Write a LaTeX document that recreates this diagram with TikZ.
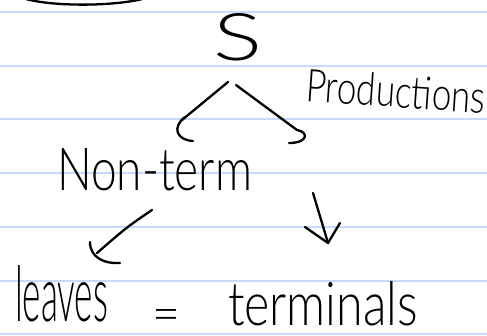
\documentclass[tikz,border=0pt]{standalone}
\usepackage{fontspec}
\usepackage{graphicx}
\setmainfont{Lato}[UprightFont=* Light]
\definecolor{rulecol}{RGB}{198,218,250}
\tikzset{
 ink/.style={line width=2.3pt, line cap=round, line join=round, draw=black},
 hand/.style={inner sep=0pt, outer sep=0pt, anchor=base west},
 ruled/.style={draw=rulecol, line width=1.3pt},
}
\begin{document}
\begin{tikzpicture}[x=1pt,y=-1pt]
\useasboundingbox (0,0) rectangle (487,335);
\fill[white] (0,0) rectangle (487,335);
\foreach \y in {12,66,119,173,227,281,334} \draw[ruled] (0,\y) -- (487,\y);
% top-left arc
\draw[ink] (20,-3) .. controls (45,7) and (115,7) .. (146,-2);
% texts
\node[hand] (S) at (213,60) {\resizebox{49pt}{47pt}{S}};
\node[hand, rotate=-4] (prod) at (305,101) {\resizebox{180pt}{33pt}{Productions}};
\node[hand] (nt) at (57,190) {\resizebox{195pt}{42pt}{Non-term}};
\node[hand] (leaves) at (15,321) {\resizebox{93pt}{56pt}{leaves}};
\node[hand] (eq) at (152,331) {\resizebox{28pt}{22pt}{=}};
\node[hand] (term) at (228,325) {\resizebox{190pt}{44pt}{terminals}};
% connectors
\coordinate (a1s) at (228,82); \coordinate (a1e) at (182,120);
\coordinate (a2s) at (236,85); \coordinate (a2e) at (297,130);
\coordinate (a3s) at (152,210); \coordinate (a3e) at (97,253);
\coordinate (a4s) at (313,193); \coordinate (a4e) at (328,243);
\draw[ink] (a1s) -- (a1e);
\draw[ink] (185,117) .. controls (172,127) and (176,140) .. (193,141);
\draw[ink] (a2s) -- (a2e) .. controls (309,132) and (308,143) .. (289,143);
\draw[ink] (a3s) .. controls (127,227) .. (a3e);
\draw[ink] (90,242) .. controls (90,258) and (105,264) .. (120,263);
\draw[ink] (a4s) -- (a4e);
\draw[ink] (305,227) -- (a4e) -- (340,223);
\end{tikzpicture}
\end{document}
